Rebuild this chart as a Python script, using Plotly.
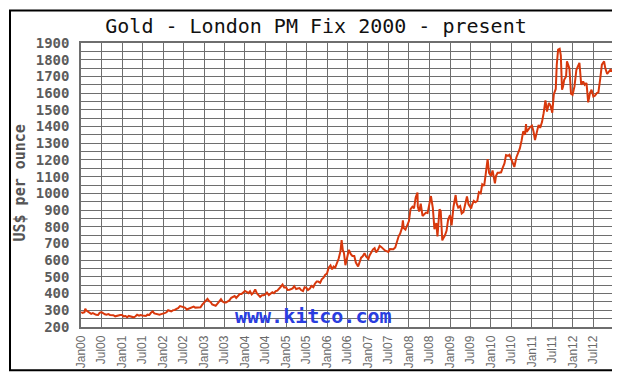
import plotly.graph_objects as go

# ---- data ----
dates = [
    "2000-01-03","2000-01-15","2000-02-01","2000-02-08","2000-02-15","2000-03-01","2000-03-15","2000-04-01","2000-04-15",
    "2000-05-01","2000-05-15","2000-06-01","2000-06-15","2000-07-01","2000-07-15","2000-08-01","2000-08-15",
    "2000-09-01","2000-09-15","2000-10-01","2000-10-15","2000-11-01","2000-11-15","2000-12-01","2000-12-15",
    "2001-01-01","2001-01-15","2001-02-01","2001-02-15","2001-03-01","2001-03-15","2001-04-01","2001-04-15",
    "2001-05-01","2001-05-15","2001-06-01","2001-06-15","2001-07-01","2001-07-15","2001-08-01","2001-08-15",
    "2001-09-01","2001-09-15","2001-10-01","2001-10-15","2001-11-01","2001-11-15","2001-12-01","2001-12-15",
    "2002-01-01","2002-01-15","2002-02-01","2002-02-15","2002-03-01","2002-03-15","2002-04-01","2002-04-15",
    "2002-05-01","2002-05-15","2002-06-01","2002-06-15","2002-07-01","2002-07-15","2002-08-01","2002-08-15",
    "2002-09-01","2002-09-15","2002-10-01","2002-10-15","2002-11-01","2002-11-15","2002-12-01","2002-12-15",
    "2003-01-01","2003-01-15","2003-02-01","2003-02-15","2003-03-01","2003-03-15","2003-04-01","2003-04-15",
    "2003-05-01","2003-05-15","2003-06-01","2003-06-15","2003-07-01","2003-07-15","2003-08-01","2003-08-15",
    "2003-09-01","2003-09-15","2003-10-01","2003-10-15","2003-11-01","2003-11-15","2003-12-01","2003-12-15",
    "2004-01-01","2004-01-15","2004-02-01","2004-02-15","2004-03-01","2004-03-15","2004-04-01","2004-04-15",
    "2004-05-01","2004-05-15","2004-06-01","2004-06-15","2004-07-01","2004-07-15","2004-08-01","2004-08-15",
    "2004-09-01","2004-09-15","2004-10-01","2004-10-15","2004-11-01","2004-11-15","2004-12-01","2004-12-15",
    "2005-01-01","2005-01-15","2005-02-01","2005-02-15","2005-03-01","2005-03-15","2005-04-01","2005-04-15",
    "2005-05-01","2005-05-15","2005-06-01","2005-06-15","2005-07-01","2005-07-15","2005-08-01","2005-08-15",
    "2005-09-01","2005-09-15","2005-10-01","2005-10-15","2005-11-01","2005-11-15","2005-12-01","2005-12-15",
    "2006-01-01","2006-01-15","2006-02-01","2006-02-15","2006-03-01","2006-03-15","2006-04-01","2006-04-15",
    "2006-05-01","2006-05-11","2006-05-22","2006-06-01","2006-06-14","2006-07-01","2006-07-15","2006-08-01",
    "2006-08-15","2006-09-01","2006-09-15","2006-10-05","2006-10-15","2006-11-01","2006-11-15","2006-12-01",
    "2006-12-15","2007-01-05","2007-01-15","2007-02-01","2007-02-15","2007-03-01","2007-03-15","2007-04-01",
    "2007-04-15","2007-05-01","2007-05-15","2007-06-01","2007-06-15","2007-07-01","2007-07-15","2007-08-01",
    "2007-08-15","2007-09-01","2007-09-15","2007-10-01","2007-10-15","2007-11-01","2007-11-08","2007-11-15",
    "2007-12-01","2007-12-15","2008-01-01","2008-01-15","2008-02-01","2008-02-15","2008-03-01","2008-03-17",
    "2008-03-20","2008-04-01","2008-04-15","2008-05-01","2008-05-15","2008-06-01","2008-06-15","2008-07-01",
    "2008-07-15","2008-08-01","2008-08-15","2008-09-01","2008-09-11","2008-09-15","2008-09-29","2008-10-10",
    "2008-10-24","2008-11-01","2008-11-15","2008-12-01","2008-12-15","2009-01-01","2009-01-15","2009-02-01",
    "2009-02-20","2009-03-01","2009-03-15","2009-04-01","2009-04-15","2009-05-01","2009-05-15","2009-06-01",
    "2009-06-15","2009-07-08","2009-07-15","2009-08-01","2009-08-15","2009-09-01","2009-09-15","2009-10-01",
    "2009-10-15","2009-11-01","2009-11-15","2009-12-02","2009-12-15","2010-01-01","2010-01-15","2010-02-05",
    "2010-02-15","2010-03-01","2010-03-15","2010-04-01","2010-04-15","2010-05-01","2010-05-15","2010-06-01",
    "2010-06-15","2010-07-01","2010-07-28","2010-08-15","2010-09-01","2010-09-15","2010-10-01","2010-10-15",
    "2010-11-01","2010-11-09","2010-11-15","2010-12-01","2010-12-15","2011-01-01","2011-01-15","2011-01-28",
    "2011-02-15","2011-03-01","2011-03-15","2011-04-01","2011-04-15","2011-05-01","2011-05-15","2011-06-01",
    "2011-06-15","2011-07-01","2011-07-15","2011-08-01","2011-08-10","2011-08-22","2011-09-05","2011-09-15",
    "2011-09-26","2011-10-05","2011-10-15","2011-11-01","2011-11-09","2011-11-15","2011-12-01","2011-12-15",
    "2011-12-29","2012-01-15","2012-02-01","2012-02-28","2012-03-08","2012-03-15","2012-04-01","2012-04-15",
    "2012-05-01","2012-05-16","2012-06-01","2012-06-15","2012-07-01","2012-07-15","2012-08-01","2012-08-15",
    "2012-09-01","2012-09-15","2012-10-05","2012-10-15","2012-11-01","2012-11-15","2012-12-01","2012-12-20",
]
prices = [
    290,284,288,310,300,293,287,279,283,
    276,273,272,285,289,282,276,274,
    277,272,272,271,264,267,270,272,
    272,264,266,258,266,263,257,258,
    264,273,268,272,269,268,266,274,
    272,285,293,281,278,276,274,277,
    279,283,288,300,297,293,301,302,
    308,313,325,322,318,316,305,310,
    313,321,322,316,318,320,318,332,
    343,355,368,355,350,335,332,327,
    340,354,366,352,346,346,354,359,
    375,380,385,374,384,397,397,406,
    416,410,403,414,395,404,425,402,
    387,380,390,390,395,406,391,400,
    408,402,415,418,428,441,454,437,
    438,422,423,426,431,444,427,430,
    433,421,415,438,434,421,430,446,
    438,459,472,472,465,485,495,511,
    520,555,569,545,562,555,584,610,
    654,720,660,643,570,613,662,636,
    625,625,586,562,586,615,623,642,
    622,608,628,651,665,672,646,663,
    686,678,667,658,654,649,666,664,
    665,676,712,743,759,795,838,793,
    783,810,834,905,920,911,975,1005,
    920,891,938,865,873,885,882,940,
    984,911,786,822,742,776,905,895,
    718,730,746,776,843,869,808,920,
    990,940,915,924,880,889,927,982,
    934,910,928,955,947,955,1007,1000,
    1054,1045,1115,1205,1123,1104,1137,1060,
    1105,1123,1123,1126,1152,1179,1229,1225,
    1231,1204,1158,1215,1250,1269,1317,1371,
    1351,1415,1368,1385,1396,1405,1370,1319,
    1374,1410,1392,1428,1480,1556,1490,1541,
    1526,1483,1594,1625,1770,1860,1865,1826,
    1620,1640,1680,1700,1790,1774,1747,1597,
    1590,1640,1740,1781,1700,1650,1670,1650,
    1660,1545,1600,1620,1580,1585,1600,1605,
    1690,1770,1790,1750,1715,1725,1740,1730,
]

tick_dates = [f"{y}-{m}-01" for y in range(2000, 2013) for m in ("01", "07")]
tick_labels = [f"{'Jan' if m == '01' else 'Jul'}{str(y)[2:]}" for y in range(2000, 2013) for m in ("01", "07")]
y_ticks = list(range(200, 2000, 100))

# ---- geometry (pixels) ----
W, H = 620, 372
L, R, T, B = 73, 606, 35, 324
pw, ph = R - L, B - T

def px(x):
    return (x - L) / pw

def py(y):
    return (B - y) / ph

fig = go.Figure()
fig.add_trace(go.Scatter(
    x=dates, y=prices, mode="lines",
    line=dict(color="#d8380c", width=2),
    hoverinfo="skip", showlegend=False,
))

grid = "#6e6e6e"
fig.update_layout(
    width=W, height=H,
    margin=dict(l=L, r=W - R, t=T, b=H - B, pad=0),
    paper_bgcolor="white", plot_bgcolor="white",
    title=dict(text="Gold - London PM Fix 2000 - present",
               x=308 / W, y=1 - 18 / H, xanchor="center", yanchor="middle",
               font=dict(family="DejaVu Sans Mono", size=20, color="#111")),
    xaxis=dict(
        type="date", range=["2000-01-01", "2013-01-01"],
        tickmode="array", tickvals=tick_dates, ticktext=tick_labels,
        tickangle=-90, ticks="", showgrid=True, gridcolor=grid, gridwidth=1,
        showline=True, linecolor=grid, linewidth=1.5, mirror=True,
        tickfont=dict(family="Liberation Sans", size=12, color="#6a6a6a"),
        ticklabelstandoff=2,
        zeroline=False,
    ),
    yaxis=dict(
        range=[200, 1900], tickmode="array", tickvals=y_ticks,
        ticktext=[str(v) for v in y_ticks], ticks="",
        showgrid=True, gridcolor=grid, gridwidth=1,
        minor=dict(dtick=50, showgrid=True, gridcolor=grid, gridwidth=1),
        showline=True, linecolor=grid, linewidth=1.5, mirror=True,
        tickfont=dict(family="DejaVu Sans Mono", size=14, color="#5c5c5c", weight="bold"),
        ticklabelstandoff=7,
        zeroline=False,
    ),
    shapes=[dict(type="rect", xref="paper", yref="paper",
                 x0=px(2), x1=px(617), y0=py(368), y1=py(2),
                 line=dict(color="black", width=2), fillcolor="rgba(0,0,0,0)", layer="above")],
    annotations=[
        dict(text="US$ per ounce", xref="paper", yref="paper", x=px(12), y=py(178),
             textangle=-90, showarrow=False, xanchor="center", yanchor="middle",
             font=dict(family="DejaVu Sans Mono", size=15, color="#555", weight="bold")),
        dict(text="www.kitco.com", xref="paper", yref="paper", x=px(305), y=py(313),
             showarrow=False, xanchor="center", yanchor="middle",
             font=dict(family="DejaVu Sans Mono", size=20, color="#2a3ddf", weight="bold")),
    ],
)

fig.write_html("out.html")
